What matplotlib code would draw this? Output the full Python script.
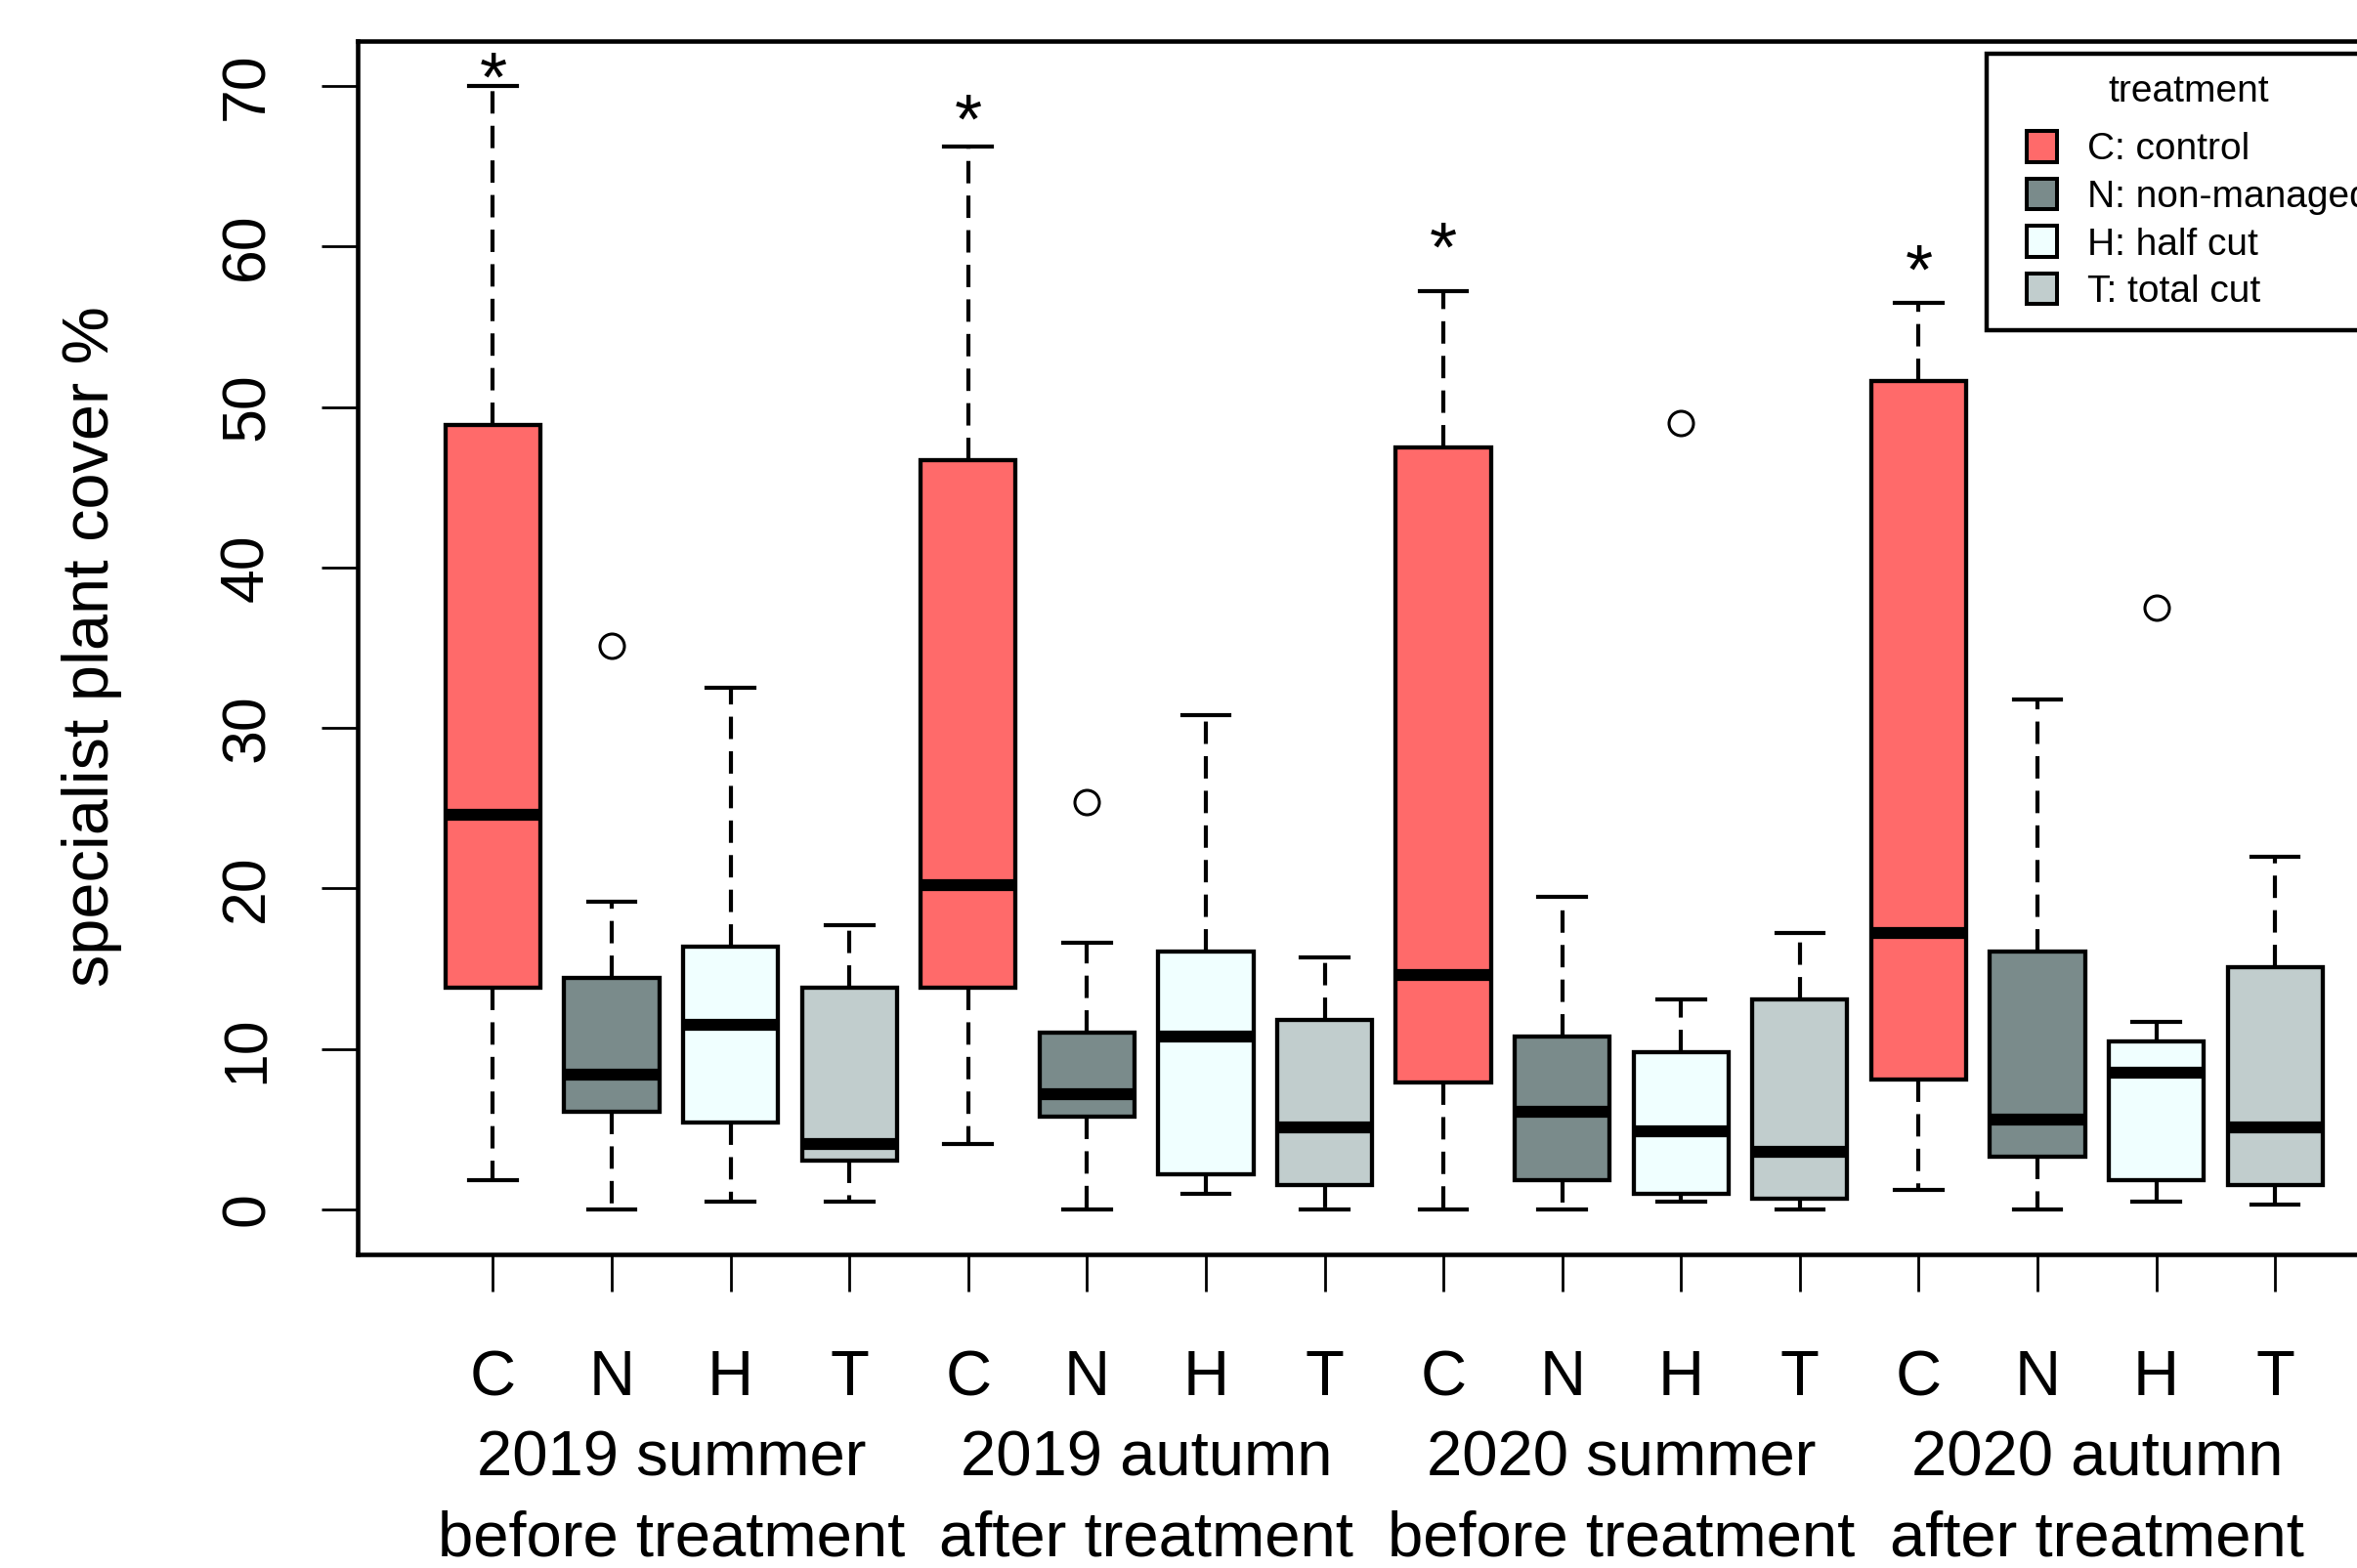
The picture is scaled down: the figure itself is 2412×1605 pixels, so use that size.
import matplotlib
matplotlib.use('Agg')
import matplotlib.pyplot as plt
import matplotlib.transforms as mtransforms
from matplotlib.patches import Patch, Rectangle
from matplotlib.legend_handler import HandlerPatch

plt.rcParams['font.family'] = ['Liberation Sans', 'DejaVu Sans']

# data
treat = ['C', 'N', 'H', 'T'] * 4
seasons = ['2019 summer', '2019 autumn', '2020 summer', '2020 autumn']
phases = ['before treatment', 'after treatment', 'before treatment', 'after treatment']

whis_lo = [1.8, 0.0, 0.5, 0.5, 4.1, 0.0, 1.0, 0.0, 0.0, 0.0, 0.5, 0.0, 1.2, 0.0, 0.5, 0.3]
q1 = [13.8, 6.1, 5.4, 3.05, 13.8, 5.8, 2.2, 1.5, 7.9, 1.8, 1.0, 0.7, 8.1, 3.3, 1.8, 1.5]
med = [24.6, 8.4, 11.5, 4.1, 20.2, 7.2, 10.8, 5.1, 14.6, 6.1, 4.9, 3.6, 17.2, 5.6, 8.5, 5.1]
q3 = [48.9, 14.4, 16.4, 13.8, 46.7, 11.0, 16.1, 11.8, 47.5, 10.8, 9.8, 13.1, 51.6, 16.1, 10.5, 15.1]
whis_hi = [70.0, 19.2, 32.5, 17.7, 66.2, 16.6, 30.8, 15.7, 57.2, 19.5, 13.1, 17.2, 56.5, 31.8, 11.7, 22.0]
outliers = [[], [35.1], [], [], [], [25.4], [], [], [], [], [49.0], [], [], [], [37.5], []]

star_pos = [1, 5, 9, 13]
star_y = [71.6, 69.0, 61.0, 59.6]

legend_labels = ['C: control', 'N: non-managed', 'H: half cut', 'T: total cut']
colors = {'C': '#FF6A6A', 'N': '#7A8B8B', 'H': '#F0FFFF', 'T': '#C1CDCD'}

positions = list(range(1, len(treat) + 1))

fig = plt.figure(figsize=(24.12, 16.05), dpi=100)
ax = fig.add_axes([0.1517, 0.2, 0.871, 0.7738])

stats = []
for i in range(len(treat)):
    stats.append({'whislo': whis_lo[i], 'q1': q1[i], 'med': med[i], 'q3': q3[i],
                  'whishi': whis_hi[i], 'fliers': outliers[i]})

bp = ax.bxp(stats, positions=positions, widths=0.8, capwidths=0.4, patch_artist=True,
            boxprops=dict(linewidth=3.1, edgecolor='black'),
            medianprops=dict(linewidth=8.8, color='black', solid_capstyle='butt'),
            whiskerprops=dict(linewidth=3.0, color='black', linestyle=(0, (5.5, 3))),
            capprops=dict(linewidth=3.0, color='black'),
            flierprops=dict(marker='o', markersize=18, markerfacecolor='none',
                            markeredgecolor='black', markeredgewidth=2.2))
for patch, t in zip(bp['boxes'], treat):
    patch.set_facecolor(colors[t])

# significance stars
star_tr = mtransforms.offset_copy(ax.transData, fig=fig, y=-30, units='points')
for p, y in zip(star_pos, star_y):
    ax.text(p, y, '*', fontsize=52, ha='center', va='baseline', transform=star_tr)

ax.set_xlim(-0.14, 17.14)
ax.set_ylim(-2.8, 72.8)
ax.set_yticks(range(0, 71, 10))
ax.set_xticks(positions)
ax.set_xticklabels(treat, fontsize=47)
ax.tick_params(axis='x', length=27, width=2, pad=43)
ax.tick_params(axis='y', length=27, width=2, pad=33, labelsize=45)
for lab in ax.get_yticklabels():
    lab.set_rotation(90)
    lab.set_va('center')

for s in ax.spines.values():
    s.set_linewidth(3.3)

# season / phase labels under each group of four
tr = mtransforms.blended_transform_factory(ax.transData, ax.transAxes)
for g in range(len(seasons)):
    xc = positions[4 * g] + 1.5
    ax.text(xc, -0.1826, seasons[g], fontsize=47, ha='center', va='baseline', transform=tr)
    ax.text(xc, -0.2486, phases[g], fontsize=47, ha='center', va='baseline', transform=tr)

fig.text(0.039, 0.588, 'specialist plant cover %', fontsize=48, rotation=90,
         ha='center', va='center')


def square_handle(legend, orig_handle, xdescent, ydescent, width, height, fontsize):
    return Rectangle((-xdescent + width - height, -ydescent), height, height)


handles = [Patch(facecolor=colors[t], edgecolor='black', linewidth=2.9) for t in ['C', 'N', 'H', 'T']]
leg = fig.legend(handles, legend_labels, title='treatment', loc='upper left',
                 bbox_to_anchor=(0.843, 0.966), fontsize=28, title_fontsize=28,
                 frameon=True, fancybox=False, framealpha=1, edgecolor='black',
                 borderpad=0.55, borderaxespad=0, handlelength=1.3, handleheight=0.875,
                 handletextpad=0.78, labelspacing=0.29,
                 handler_map={Patch: HandlerPatch(patch_func=square_handle)})
leg.get_frame().set_linewidth(3.2)
leg._legend_box.sep = 16  # extra gap under the title, like R's legend

fig.savefig('out.png', dpi=100)
